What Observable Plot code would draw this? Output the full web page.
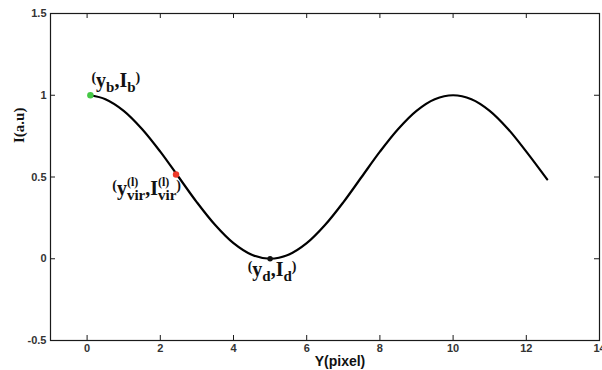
<!DOCTYPE html>
<html><head><meta charset="utf-8">
<script src="https://cdn.jsdelivr.net/npm/d3@7"></script>
<script src="https://cdn.jsdelivr.net/npm/@observablehq/plot@0.6"></script>
<style>body{margin:0;background:#fff;} #chart{width:602px;height:370px;}</style>
</head><body><div id="chart"></div>
<script>
// Curve samples
const curveX = [0.1, 0.5, 1.0, 1.5, 2.0, 2.5, 3.0, 3.5, 4.0, 4.5, 5.0, 5.5, 6.0, 6.5, 7.0, 7.5, 8.0, 8.5, 9.0, 9.5, 10.0, 10.5, 11.0, 11.5, 12.0, 12.57];
const curveI = [1.0, 0.976, 0.905, 0.794, 0.655, 0.5, 0.345, 0.206, 0.095, 0.024, 0.0, 0.024, 0.095, 0.206, 0.345, 0.5, 0.655, 0.794, 0.905, 0.976, 1.0, 0.976, 0.905, 0.794, 0.655, 0.485];

// Marked points
const pointX = [0.09, 2.43, 5.0];
const pointI = [1.0, 0.515, 0.0];
const pointColor = ["#45c845", "#ee3a2a", "#111111"];
const pointLabel = ["(y_{b},I_{b})", "(y_{vir}^{(l)},I_{vir}^{(l)})", "(y_{d},I_{d})"];

// Axes
const xTicks = [0, 2, 4, 6, 8, 10, 12, 14];
const yTicks = [-0.5, 0, 0.5, 1, 1.5];
const xDomain = [-1, 14];
const yDomain = [-0.5, 1.5];
const xLabel = "Y(pixel)";
const yLabel = "I(a.u)";

const curve = curveX.map((x, i) => ({x, y: curveI[i]}));
const points = pointX.map((x, i) => ({x, y: pointI[i], color: pointColor[i], label: pointLabel[i], i}));

const W = 602, H = 370, mL = 50, mR = 3, mT = 13, mB = 30;
const innerW = W - mL - mR, innerH = H - mT - mB;
const tick = 5;
const axisColor = "#1a1a1a";
const sans = "Liberation Sans, Arial, sans-serif";
const serif = "Liberation Serif, Times New Roman, serif";

const annStyle = [
  {textAnchor: "start", dx: 1, dy: -8},
  {textAnchor: "end", dx: 5, dy: 20},
  {textAnchor: "middle", dx: 2, dy: 17}
];

const plot = Plot.plot({
  width: W, height: H,
  marginLeft: mL, marginRight: mR, marginTop: mT, marginBottom: mB,
  style: {background: "#fff", overflow: "visible"},
  x: {domain: xDomain},
  y: {domain: yDomain},
  marks: [
    Plot.frame({stroke: axisColor, strokeWidth: 1.2}),
    // inward ticks on all four sides
    Plot.tickX(xTicks, {x: d => d, insetTop: innerH - tick, stroke: axisColor}),
    Plot.tickX(xTicks, {x: d => d, insetBottom: innerH - tick, stroke: axisColor}),
    Plot.tickY(yTicks, {y: d => d, insetRight: innerW - tick, stroke: axisColor}),
    Plot.tickY(yTicks, {y: d => d, insetLeft: innerW - tick, stroke: axisColor}),
    Plot.axisX(xTicks, {anchor: "bottom", tickSize: 0, tickPadding: 4, fontSize: 11, fontWeight: "bold", fill: "#333", fontFamily: sans, tickFormat: d => String(d), label: null}),
    Plot.axisY(yTicks, {anchor: "left", tickSize: 0, tickPadding: 4, fontSize: 11, fontWeight: "bold", fill: "#333", fontFamily: sans, tickFormat: d => String(d), label: null}),
    Plot.line(curve, {x: "x", y: "y", stroke: "#000", strokeWidth: 2.2, curve: "catmull-rom"}),
    Plot.dot(points, {x: "x", y: "y", fill: "color", r: d => d.i === 2 ? 2.5 : 3.5, stroke: null}),
    ...points.map((p, k) => Plot.text([p], {x: "x", y: "y", text: "label", className: "ann",
      textAnchor: annStyle[k].textAnchor, dx: annStyle[k].dx, dy: annStyle[k].dy, lineAnchor: "bottom",
      fontFamily: serif, fontWeight: "bold", fontSize: 20, fill: "#111"})),
    Plot.text([xLabel], {frameAnchor: "bottom", dx: 15, dy: 25, lineAnchor: "bottom", text: d => d,
      fontFamily: sans, fontWeight: "bold", fontSize: 14, fill: "#111"}),
    Plot.text([yLabel], {frameAnchor: "left", rotate: -90, dx: -31, dy: -34, text: d => d,
      fontFamily: serif, fontWeight: "bold", fontSize: 15, fill: "#111"})
  ]
});
document.getElementById("chart").appendChild(plot);

// Rich text for annotation labels (subscripts / superscripts)
function parseRich(src) {
  const out = [];
  let i = 0, buf = "";
  const flush = () => { if (buf) { out.push({type: "base", text: buf}); buf = ""; } };
  while (i < src.length) {
    const c = src[i];
    if ((c === "_" || c === "^") && src[i + 1] === "{") {
      flush();
      let j = i + 2, depth = 1;
      while (j < src.length && depth > 0) { if (src[j] === "{") depth++; if (src[j] === "}") depth--; j++; }
      out.push({type: c === "_" ? "sub" : "sup", text: src.slice(i + 2, j - 1)});
      i = j;
    } else if ((c === "(" && i === 0) || (c === ")" && i === src.length - 1)) {
      flush(); out.push({type: "paren", text: c}); i++;
    } else { buf += c; i++; }
  }
  flush();
  return out;
}
const offsets = {base: 0, sub: 5, sup: -9, paren: -5};
const sizes = {base: 20, sub: 15, sup: 12, paren: 14};
d3.select(plot).selectAll("g.ann text").each(function() {
  const el = d3.select(this);
  const src = el.text();
  el.text("").attr("font-size", 20);
  let shift = 0, prevScriptLen = 0, pending = 0;
  parseRich(src).forEach(tk => {
    const target = offsets[tk.type];
    const sp = el.append("tspan").text(tk.text).attr("dy", target - shift).attr("font-size", sizes[tk.type]);
    shift = target;
    const isScript = tk.type === "sub" || tk.type === "sup";
    let dx = 0;
    if (isScript && prevScriptLen) dx = -prevScriptLen;   // stack sub & sup
    else if (!isScript && pending > 0) dx = pending;       // move past the wider script
    if (dx) sp.attr("dx", dx);
    const len = sp.node().getComputedTextLength();
    if (isScript && prevScriptLen) { pending = prevScriptLen - len; prevScriptLen = 0; }
    else if (isScript) { prevScriptLen = len; pending = 0; }
    else { prevScriptLen = 0; pending = 0; }
  });
});
</script>
</body></html>
